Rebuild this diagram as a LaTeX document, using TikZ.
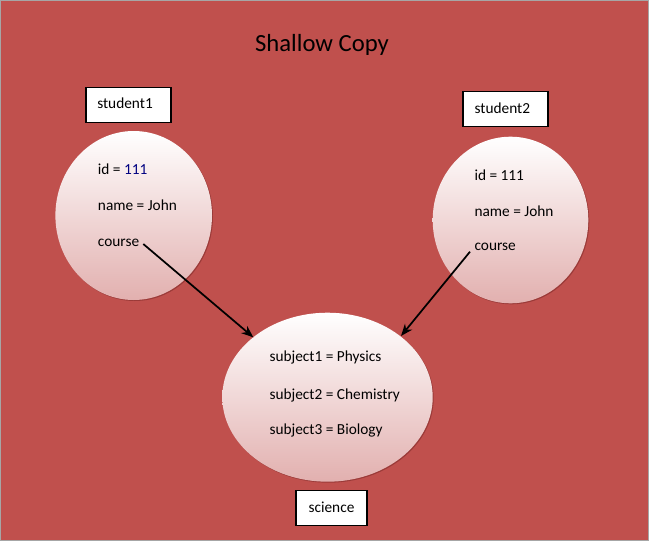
\documentclass[tikz,border=0pt]{standalone}
\usepackage{fontspec}
\setmainfont{Carlito}
\usetikzlibrary{arrows.meta,shapes.geometric}
\definecolor{bgred}{RGB}{192,80,77}
\definecolor{pinkbot}{RGB}{226,176,175}
\definecolor{shadowred}{RGB}{140,50,48}
\tikzset{
  obj/.style={ellipse, draw=none, top color=white, bottom color=pinkbot, inner sep=0pt},
  objshadow/.style={ellipse, fill=shadowred, draw=none, inner sep=0pt, opacity=0.7},
  label box/.style={draw=black, fill=white, line width=0.9pt, inner sep=0pt},
  fieldtxt/.style={anchor=west, font=\fontsize{11.5}{13}\selectfont, inner sep=0pt},
  ref/.style={line width=1.3pt, -{Stealth[length=9pt,width=7pt]}},
}
\begin{document}
\begin{tikzpicture}[x=0.75pt,y=-0.75pt]
\useasboundingbox (0,0) rectangle (650,542);
\fill[white] (0,0) rectangle (650,542);
\fill[bgred] (0,0) rectangle (648,540);
\draw[gray!70, line width=0.6pt] (0.5,0.5) rectangle (648,540);
\node[font=\fontsize{18.5}{22}\selectfont] (title) at (322,45) {Shallow Copy};
% student1
\node[objshadow, minimum width=156.6pt*0.75, minimum height=169pt*0.75] (sh1) at (134.7,216.5) {};
\node[obj, minimum width=156.6pt*0.75, minimum height=169pt*0.75] (stu1) at (133.7,215.5) {};
\node[label box, minimum width=85pt*0.75, minimum height=35pt*0.75] (s1) at (128.5,104.7) {};
\node[fieldtxt] (s1t) at (97,103) {student1};
\node[fieldtxt] (id1) at (97.7,169.3) {id = \textcolor{blue!50!black}{111}};
\node[fieldtxt] (nm1) at (97.7,205.7) {name = John};
\node[fieldtxt] (c1) at (97.7,242.7) {course};
% student2
\node[objshadow, minimum width=155.6pt*0.75, minimum height=166.6pt*0.75] (sh2) at (511.5,221) {};
\node[obj, minimum width=155.6pt*0.75, minimum height=166.6pt*0.75] (stu2) at (510.5,220) {};
\node[label box, minimum width=85pt*0.75, minimum height=35pt*0.75] (s2) at (505.5,108.7) {};
\node[fieldtxt] (s2t) at (474.3,108) {student2};
\node[fieldtxt] (id2) at (474.3,175) {id = 111};
\node[fieldtxt] (nm2) at (474.3,211) {name = John};
\node[fieldtxt] (c2) at (474.3,247.3) {course};
% science
\node[objshadow, minimum width=210.4pt*0.75, minimum height=169pt*0.75] (sh3) at (328.5,398.2) {};
\node[obj, minimum width=210.4pt*0.75, minimum height=169pt*0.75] (sci_obj) at (327.5,397.2) {};
\node[fieldtxt] (sb1) at (269.3,357.3) {subject1 = Physics};
\node[fieldtxt] (sb2) at (269.3,395) {subject2 = Chemistry};
\node[fieldtxt] (sb3) at (269.3,430.7) {subject3 = Biology};
\node[label box, minimum width=71pt*0.75, minimum height=35pt*0.75, font=\fontsize{11.5}{13}\selectfont] (sci) at (331.5,507.7) {science};
% arrow ends
\coordinate (t1) at (253.3,337.3);
\coordinate (t2) at (401,336);
\coordinate (a1) at (143.3,244);
\coordinate (a2) at (470,251.7);
\draw[ref] (a1) -- (t1);
\draw[ref] (a2) -- (t2);
\end{tikzpicture}
\end{document}
